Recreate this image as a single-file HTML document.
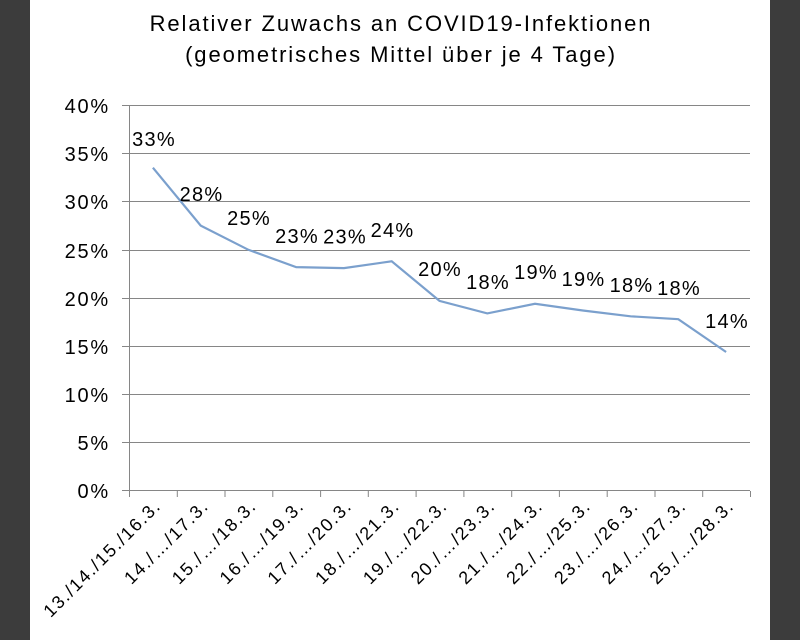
<!DOCTYPE html><html><head><style>body{margin:0;background:#fff}svg{display:block;font-family:"Liberation Sans",Arial,sans-serif}</style></head><body>
<svg width="800" height="640" xmlns="http://www.w3.org/2000/svg">
<rect width="800" height="640" fill="#fff"/>
<rect x="0" y="0" width="30" height="640" fill="#3c3c3c"/>
<rect x="770" y="0" width="30" height="640" fill="#3c3c3c"/>
<g font-size="22" letter-spacing="1.9" fill="#000" text-anchor="middle">
<text x="401" y="31">Relativer Zuwachs an COVID19-Infektionen</text>
<text x="401" y="62">(geometrisches Mittel über je 4 Tage)</text>
</g>
<g stroke="#868686" stroke-width="1">
<line x1="122" y1="105.5" x2="750" y2="105.5"/><line x1="122" y1="153.5" x2="750" y2="153.5"/><line x1="122" y1="201.5" x2="750" y2="201.5"/><line x1="122" y1="250.5" x2="750" y2="250.5"/><line x1="122" y1="298.5" x2="750" y2="298.5"/><line x1="122" y1="346.5" x2="750" y2="346.5"/><line x1="122" y1="394.5" x2="750" y2="394.5"/><line x1="122" y1="442.5" x2="750" y2="442.5"/><line x1="122" y1="490.5" x2="750" y2="490.5"/>
<line x1="129.5" y1="105" x2="129.5" y2="491"/>
<line x1="129.5" y1="491" x2="129.5" y2="497"/><line x1="177.3" y1="491" x2="177.3" y2="497"/><line x1="225" y1="491" x2="225" y2="497"/><line x1="272.8" y1="491" x2="272.8" y2="497"/><line x1="320.6" y1="491" x2="320.6" y2="497"/><line x1="368.3" y1="491" x2="368.3" y2="497"/><line x1="416.1" y1="491" x2="416.1" y2="497"/><line x1="463.9" y1="491" x2="463.9" y2="497"/><line x1="511.7" y1="491" x2="511.7" y2="497"/><line x1="559.4" y1="491" x2="559.4" y2="497"/><line x1="607.2" y1="491" x2="607.2" y2="497"/><line x1="655" y1="491" x2="655" y2="497"/><line x1="702.7" y1="491" x2="702.7" y2="497"/><line x1="750.5" y1="491" x2="750.5" y2="497"/>
</g>
<g font-size="20" letter-spacing="1.8" fill="#000" text-anchor="end">
<text x="110" y="113">40%</text><text x="110" y="161">35%</text><text x="110" y="209">30%</text><text x="110" y="258">25%</text><text x="110" y="306">20%</text><text x="110" y="354">15%</text><text x="110" y="402">10%</text><text x="110" y="450">5%</text><text x="110" y="498">0%</text>
</g>
<path d="M152.9,167.7 L200.7,225.6 L248.4,249.8 L296.2,267.1 L344,268.1 L391.7,261.3 L439.5,300.9 L487.3,313.4 L535,303.8 L582.8,310.5 L630.6,316.3 L678.3,319.2 L726.1,352" fill="none" stroke="#7ba0cd" stroke-width="2.2"/>
<g font-size="20" letter-spacing="1.2" fill="#000" text-anchor="middle">
<text x="154" y="146">33%</text><text x="201.5" y="201">28%</text><text x="249" y="225">25%</text><text x="297" y="243">23%</text><text x="345" y="243.5">23%</text><text x="392.5" y="237">24%</text><text x="440" y="276">20%</text><text x="488" y="289">18%</text><text x="536" y="279">19%</text><text x="583.5" y="286">19%</text><text x="631.5" y="292">18%</text><text x="679" y="295">18%</text><text x="727" y="328">14%</text>
</g>
<g font-size="18" letter-spacing="1.6" fill="#000" text-anchor="end">
<text transform="translate(162,507) rotate(-45)">13./14./15./16.3.</text>
<text transform="translate(209.8,507) rotate(-45)">14./…/17.3.</text>
<text transform="translate(257.5,507) rotate(-45)">15./…/18.3.</text>
<text transform="translate(305.3,507) rotate(-45)">16./…/19.3.</text>
<text transform="translate(353.1,507) rotate(-45)">17./…/20.3.</text>
<text transform="translate(400.8,507) rotate(-45)">18./…/21.3.</text>
<text transform="translate(448.6,507) rotate(-45)">19./…/22.3.</text>
<text transform="translate(496.4,507) rotate(-45)">20./…/23.3.</text>
<text transform="translate(544.1,507) rotate(-45)">21./…/24.3.</text>
<text transform="translate(591.9,507) rotate(-45)">22./…/25.3.</text>
<text transform="translate(639.7,507) rotate(-45)">23./…/26.3.</text>
<text transform="translate(687.4,507) rotate(-45)">24./…/27.3.</text>
<text transform="translate(735.2,507) rotate(-45)">25./…/28.3.</text>
</g>
</svg></body></html>
